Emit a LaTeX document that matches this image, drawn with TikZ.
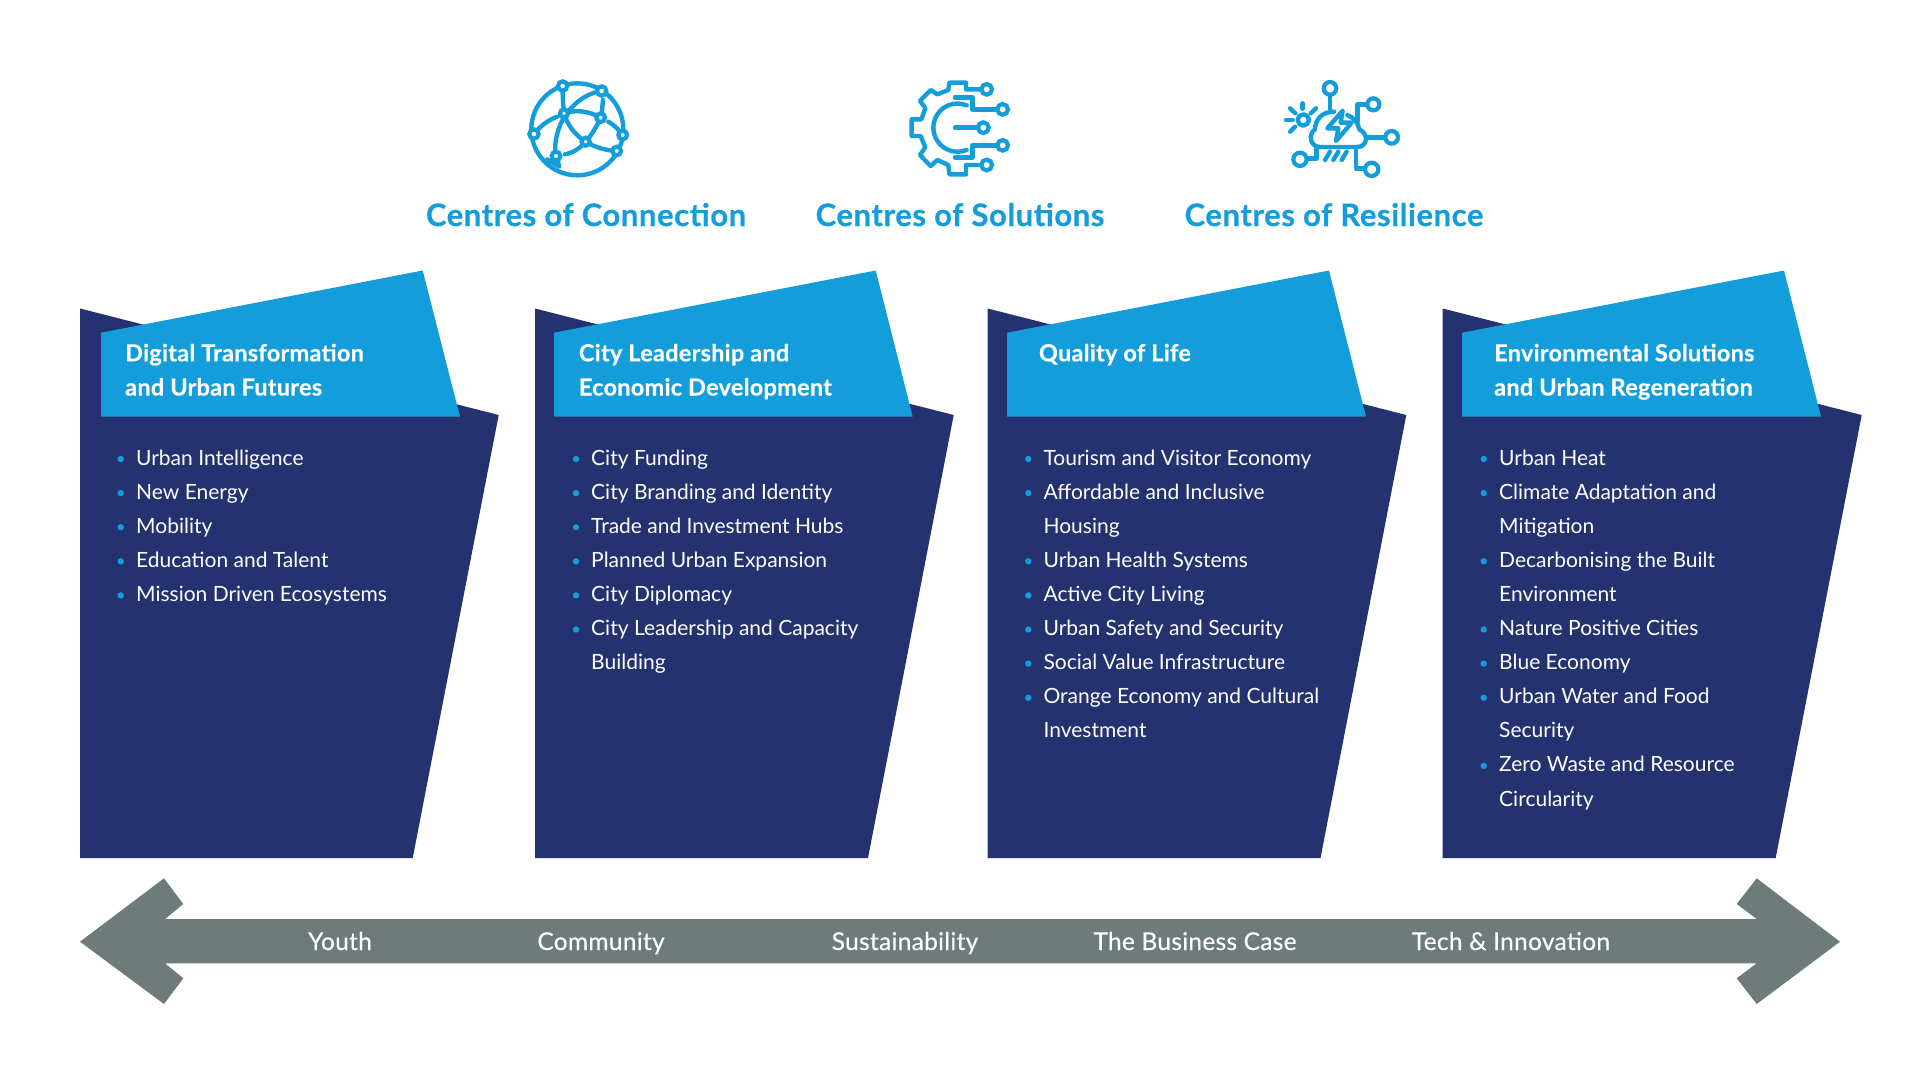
\documentclass[tikz,border=0pt]{standalone}
\usepackage{fontspec}
\setmainfont{Lato}
\newfontfamily\headfont[LetterSpace=1.1,BoldFeatures={FakeBold=0.4}]{Lato}
\newfontfamily\titlefont[LetterSpace=1.9,BoldFeatures={FakeBold=0.5}]{Lato}
\newfontfamily\barfont[LetterSpace=1.2,FakeBold=0.35]{Lato}
\definecolor{navy}{HTML}{243270}
\definecolor{sky}{HTML}{149DDB}
\definecolor{slate}{HTML}{6F7A7B}
\tikzset{
  panel/.style={fill=navy},
  tab/.style={fill=sky},
  heading/.style={anchor=base west,inner sep=0pt,text=white,font=\headfont\fontsize{23.5}{23.5}\selectfont\bfseries},
  itemtxt/.style={anchor=base west,inner sep=0pt,text=white,font=\fontsize{21}{21}\selectfont},
  title/.style={anchor=base,inner sep=0pt,text=sky,font=\titlefont\fontsize{31}{31}\selectfont\bfseries},
  barlabel/.style={anchor=base,inner sep=0pt,text=white,font=\barfont\fontsize{24.5}{24.5}\selectfont},
  ico/.style={draw=sky,line width=4.4pt,line cap=round,line join=round},
  dotnode/.style={draw=sky,line width=4.2pt,fill=white},
}
\newcommand{\colshape}[6]{% x0, blue left, blue top x, blue BR x, dark right x, bottom right x
  \fill[panel] (#1,308.5) -- (#5,415) -- (#6,858) -- (#1,858) -- cycle;
  \fill[tab] (#2,332.7) -- (#3,270.5) -- (#4,416.7) -- (#2,416.7) -- cycle;
}
\newcommand{\head}[4]{\node[heading] (h#1#2) at (#3,{361.3+34.2*#2}) {#4};}
% column, line, text x, bullet x, text
\newcommand{\bul}[5]{\fill[sky] (#4,{459+34.1*#2}) circle (3.2);\node[itemtxt] (i#1#2) at (#3,{465+34.1*#2}) {#5};}
\newcommand{\cont}[4]{\node[itemtxt] (i#1#2) at (#3,{465+34.1*#2}) {#4};}
\begin{document}
\begin{tikzpicture}[x=1pt,y=-1pt]
\useasboundingbox (0,0) rectangle (1920,1080);
\fill[white] (0,0) rectangle (1920,1080);
% panels
\colshape{80}{101}{422.7}{460}{498.7}{412.7}
\colshape{535}{554}{875.7}{912.7}{953.7}{868}
\colshape{987.7}{1007}{1329}{1366}{1406.3}{1320.5}
\colshape{1442.7}{1462}{1784}{1821}{1861.7}{1775.7}
% headings
\head{a}{0}{125}{Digital Transformation}
\head{a}{1}{125}{and Urban Futures}
\head{b}{0}{578.7}{City Leadership and}
\head{b}{1}{578.7}{Economic Development}
\head{c}{0}{1038.7}{Quality of Life}
\head{d}{0}{1494}{Environmental Solutions}
\head{d}{1}{1494}{and Urban Regeneration}
% column 1
\bul{a}{0}{136}{120.7}{Urban Intelligence}
\bul{a}{1}{136}{120.7}{New Energy}
\bul{a}{2}{136}{120.7}{Mobility}
\bul{a}{3}{136}{120.7}{Education and Talent}
\bul{a}{4}{136}{120.7}{Mission Driven Ecosystems}
% column 2
\bul{b}{0}{591}{576}{City Funding}
\bul{b}{1}{591}{576}{City Branding and Identity}
\bul{b}{2}{591}{576}{Trade and Investment Hubs}
\bul{b}{3}{591}{576}{Planned Urban Expansion}
\bul{b}{4}{591}{576}{City Diplomacy}
\bul{b}{5}{591}{576}{City Leadership and Capacity}
\cont{b}{6}{591}{Building}
% column 3
\bul{c}{0}{1043.4}{1028.3}{Tourism and Visitor Economy}
\bul{c}{1}{1043.4}{1028.3}{Affordable and Inclusive}
\cont{c}{2}{1043.4}{Housing}
\bul{c}{3}{1043.4}{1028.3}{Urban Health Systems}
\bul{c}{4}{1043.4}{1028.3}{Active City Living}
\bul{c}{5}{1043.4}{1028.3}{Urban Safety and Security}
\bul{c}{6}{1043.4}{1028.3}{Social Value Infrastructure}
\bul{c}{7}{1043.4}{1028.3}{Orange Economy and Cultural}
\cont{c}{8}{1043.4}{Investment}
% column 4
\bul{d}{0}{1499}{1483.7}{Urban Heat}
\bul{d}{1}{1499}{1483.7}{Climate Adaptation and}
\cont{d}{2}{1499}{Mitigation}
\bul{d}{3}{1499}{1483.7}{Decarbonising the Built}
\cont{d}{4}{1499}{Environment}
\bul{d}{5}{1499}{1483.7}{Nature Positive Cities}
\bul{d}{6}{1499}{1483.7}{Blue Economy}
\bul{d}{7}{1499}{1483.7}{Urban Water and Food}
\cont{d}{8}{1499}{Security}
\bul{d}{9}{1499}{1483.7}{Zero Waste and Resource}
\cont{d}{10}{1499}{Circularity}
% arrow
\fill[slate] (80,941.7) -- (164,878.3) -- (183.3,904) -- (165,919) -- (1756.7,919) -- (1736.7,904) -- (1756.7,878.3) -- (1840,941.7) -- (1756.7,1004) -- (1736.7,978.3) -- (1756.7,963.3) -- (165,963.3) -- (183.3,978.3) -- (164,1004) -- cycle;
\node[barlabel] (youth) at (340,950) {Youth};
\node[barlabel] (community) at (601,950) {Community};
\node[barlabel] (sustain) at (905,950) {Sustainability};
\node[barlabel] (business) at (1195,950) {The Business Case};
\node[barlabel] (tech) at (1511,950) {Tech \& Innovation};
% titles
\node[title] (t1) at (586,226) {Centres of Connection};
\node[title] (t2) at (960,226) {Centres of Solutions};
\node[title] (t3) at (1334,226) {Centres of Resilience};
% icon 1
\begin{scope}[shift={(520,70)},x=0.3333pt,y=-0.3333pt]
\draw[ico] (172,178) circle (138);
\draw[ico] (128,48) .. controls (127,75) and (130,105) .. (132,130);
\draw[ico] (245,63) .. controls (190,70) and (130,120) .. (112,190) .. controls (105,215) and (104,240) .. (108,258);
\draw[ico] (249,90) -- (244,143);
\draw[ico] (132,130) .. controls (167,118) and (207,123) .. (242,143);
\draw[ico] (132,130) .. controls (142,165) and (165,195) .. (197,215);
\draw[ico] (242,143) .. controls (230,170) and (215,195) .. (197,215);
\draw[ico] (42,192) .. controls (60,168) and (85,150) .. (112,140);
\draw[ico] (265,155) .. controls (282,165) and (298,180) .. (308,195);
\draw[ico] (197,215) .. controls (225,232) and (260,242) .. (290,243);
\draw[ico] (197,215) .. controls (180,235) and (160,248) .. (135,253);
\draw[ico] (108,258) -- (118,290) -- (82,268);
\foreach \a/\b/\r in {128/48/14,245/63/14,132/130/12,242/143/13,42/192/14,308/195/13,108/258/13,197/215/12,290/243/13}
  \filldraw[dotnode] (\a,\b) circle (\r);
\end{scope}
% icon 2
\begin{scope}[shift={(900,70)},x=0.3333pt,y=-0.3333pt]
\draw[ico] (240,58) -- (198,58) -- (198,38) -- (148,38) -- (145,60) -- (112,73) -- (92,60) -- (60,92) -- (76,115) -- (64,148) -- (35,148) -- (35,198) -- (62,198) -- (76,232) -- (60,255) -- (92,288) -- (112,270) -- (145,285) -- (148,313) -- (198,313) -- (198,285) -- (240,285);
\draw[ico] (165,82) -- (217,82) -- (217,118) -- (290,118);
\draw[ico] (165,262) -- (217,262) -- (217,226) -- (290,226);
\draw[ico] (165,173) -- (235,173);
\draw[ico] (200,106) arc[start angle=-67.6,end angle=-292.4,radius=72.4];
\foreach \a/\b/\r in {260/58/16,308/118/16,250/173/16,308/226/16,260/285/16}
  \filldraw[dotnode] (\a,\b) circle (\r);
\end{scope}
% icon 3
\begin{scope}[shift={(1270,70)},x=0.3333pt,y=-0.3333pt]
\draw[ico] (100,150) circle (17);
\draw[ico] (98,100) -- (98,116);
\draw[ico] (60,115) -- (76,130);
\draw[ico] (138,115) -- (122,130);
\draw[ico] (48,150) -- (68,150);
\draw[ico] (60,185) -- (75,170);
\draw[ico] (262,231) -- (150,231) .. controls (122,231) and (112,195) .. (135,178) .. controls (135,150) and (155,125) .. (192,125);
\draw[ico] (232,135) .. controls (252,142) and (264,158) .. (268,178) .. controls (300,195) and (290,231) .. (262,231);
\draw[ico] (218,122) -- (172,175) -- (205,175) -- (198,213) -- (245,158) -- (212,158) -- cycle;
\draw[ico] (180,73) -- (180,125);
\draw[ico] (292,103) -- (262,103) -- (262,155);
\draw[ico] (290,202) -- (346,202);
\draw[ico] (258,231) -- (258,295) -- (285,295);
\draw[ico] (140,231) -- (140,266) -- (110,266);
\draw[ico] (165,270) -- (180,245);
\draw[ico] (190,270) -- (205,245);
\draw[ico] (215,270) -- (230,245);
\foreach \a/\b/\r in {180/55/19,310/103/18,365/202/19,305/298/20,90/268/20}
  \filldraw[dotnode] (\a,\b) circle (\r);
\end{scope}
\end{tikzpicture}
\end{document}
